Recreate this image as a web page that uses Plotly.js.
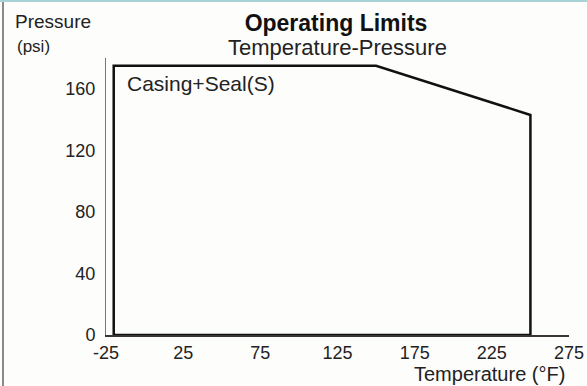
<!DOCTYPE html>
<html>
<head>
<meta charset="utf-8">
<script src="https://cdn.plot.ly/plotly-3.0.1.min.js"></script>
<style>
  html, body { margin: 0; padding: 0; background: #fdfdfc; }
  #chart { width: 587px; height: 386px; }
  #frameL { position: absolute; left: 2px; top: 0; width: 2px; height: 386px; background: #8a8a8a; }
  #frameT { position: absolute; left: 0; top: 0; width: 587px; height: 2px; background: #a8d4d8; }
</style>
</head>
<body>
<div id="chart"></div>
<div id="frameL"></div>
<div id="frameT"></div>
<script>
// Operating limit envelope (Casing+Seal(S))
const temperatureF = [-20, -20, 150, 250, 250, -20];
const pressurePsi  = [0, 175, 175, 143, 0, 0];
const xTicks = [-25, 25, 75, 125, 175, 225, 275];
const yTicks = [0, 40, 80, 120, 160];
const seriesName = 'Casing+Seal(S)';

const font = 'Liberation Sans, Arial, sans-serif';

const trace = {
  x: temperatureF,
  y: pressurePsi,
  type: 'scatter',
  mode: 'lines',
  name: seriesName,
  line: { color: '#111111', width: 2.5 },
  hoverinfo: 'x+y'
};

const layout = {
  width: 587,
  height: 386,
  paper_bgcolor: '#fdfdfc',
  plot_bgcolor: '#fdfdfc',
  showlegend: false,
  margin: { l: 106, r: 18, t: 58, b: 51 },
  title: {
    text: '<b>Operating Limits</b>',
    font: { family: font, size: 23, color: '#111' },
    x: 336 / 587, xanchor: 'center', xref: 'container',
    y: 1 - 15 / 386, yanchor: 'top', yref: 'container'
  },
  xaxis: {
    range: [-25, 275],
    tickvals: xTicks,
    ticktext: xTicks.map(String),
    showgrid: false,
    zeroline: false,
    showline: true,
    linecolor: '#3a3530',
    linewidth: 1.5,
    ticks: '',
    ticklabelstandoff: 1,
    tickfont: { family: font, size: 18, color: '#222' }
  },
  yaxis: {
    range: [0, 180],
    tickvals: yTicks,
    ticktext: yTicks.map(String),
    showgrid: false,
    zeroline: false,
    showline: true,
    linecolor: '#777777',
    linewidth: 1,
    ticks: '',
    ticklabelstandoff: 6,
    tickfont: { family: font, size: 18, color: '#222' }
  },
  annotations: [
    { text: 'Temperature-Pressure', xref: 'paper', yref: 'paper',
      x: (337 - 106) / 463, y: 1 + (58 - 33) / 277, xanchor: 'center', yanchor: 'top',
      showarrow: false, font: { family: font, size: 22, color: '#222' } },
    { text: 'Pressure', xref: 'paper', yref: 'paper',
      x: (13 - 106) / 463, y: 1 + (58 - 9) / 277, xanchor: 'left', yanchor: 'top',
      showarrow: false, font: { family: font, size: 19, color: '#222' } },
    { text: '(psi)', xref: 'paper', yref: 'paper',
      x: (15 - 106) / 463, y: 1 + (58 - 35) / 277, xanchor: 'left', yanchor: 'top',
      showarrow: false, font: { family: font, size: 17, color: '#222' } },
    { text: seriesName, xref: 'paper', yref: 'paper',
      x: (125 - 106) / 463, y: 1 - (70 - 58) / 277, xanchor: 'left', yanchor: 'top',
      showarrow: false, font: { family: font, size: 21, color: '#222' } },
    { text: 'Temperature (°F)', xref: 'paper', yref: 'paper',
      x: (567 - 106) / 463, y: -(361 - 335) / 277, xanchor: 'right', yanchor: 'top',
      showarrow: false, font: { family: font, size: 20, color: '#222' } }
  ]
};

Plotly.newPlot('chart', [trace], layout, { displayModeBar: false, staticPlot: true });
</script>
</body>
</html>
